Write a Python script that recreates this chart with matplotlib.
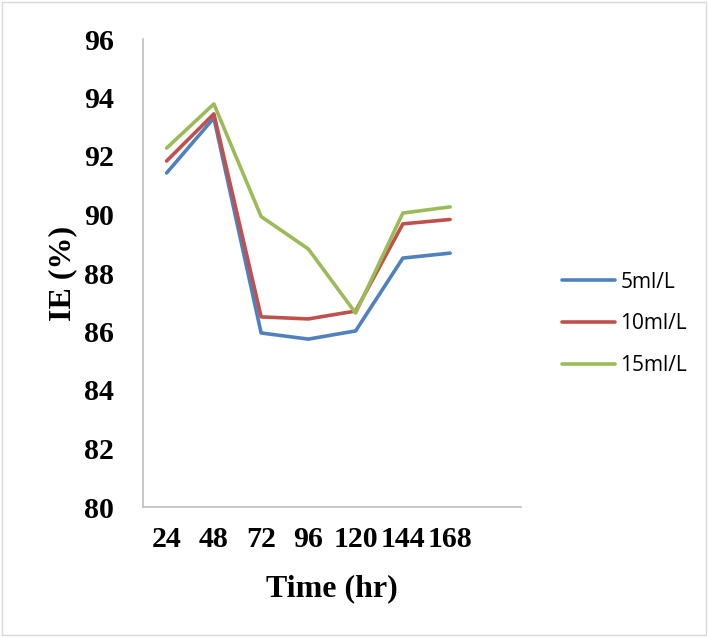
import matplotlib.pyplot as plt
from matplotlib.patches import Rectangle

times = ['24', '48', '72', '96', '120', '144', '168']
series_names = ['5ml/L', '10ml/L', '15ml/L']
ie_5 = [91.42, 93.30, 85.95, 85.74, 86.02, 88.51, 88.68]
ie_10 = [91.83, 93.44, 86.50, 86.43, 86.70, 89.68, 89.83]
ie_15 = [92.27, 93.78, 89.93, 88.82, 86.63, 90.05, 90.26]
colors = ['#4F81BD', '#C0504D', '#9BBB59']

fig = plt.figure(figsize=(7.08, 6.37), dpi=100)
ax = fig.add_axes([143 / 708, 1 - 507 / 637, (521 - 143) / 708, (507 - 39) / 637])

# whole-chart border
fig.patches.append(Rectangle((0.003, 0.003), 0.994, 0.994, transform=fig.transFigure,
                             fill=False, edgecolor='#D9D9D9', linewidth=1))

x = range(len(times))
for vals, name, c in zip([ie_5, ie_10, ie_15], series_names, colors):
    ax.plot(x, vals, color=c, linewidth=2.6, label=name, solid_capstyle='round')

ax.set_xlim(-0.5, 7.5)
ax.set_ylim(80, 96)
ax.set_xticks(list(x))
ax.set_xticklabels(times)
ax.set_yticks(range(80, 97, 2))

serif = {'family': 'Liberation Serif', 'weight': 'bold'}
for lbl in ax.get_xticklabels() + ax.get_yticklabels():
    lbl.set_fontfamily('Liberation Serif')
    lbl.set_fontweight('bold')
    lbl.set_fontsize(21.5)
ax.tick_params(length=0)
ax.tick_params(axis='x', pad=14)
ax.tick_params(axis='y', pad=21)

for s in ['top', 'right']:
    ax.spines[s].set_visible(False)
for s in ['left', 'bottom']:
    ax.spines[s].set_color('#BFBFBF')
    ax.spines[s].set_linewidth(1.2)

ax.set_xlabel('Time (hr)', fontdict=serif, fontsize=23, labelpad=15)
ax.set_ylabel('IE (%)', fontdict=serif, fontsize=23, labelpad=5)

ax.legend(loc='center left', bbox_to_anchor=(562 / 708, 1 - 324 / 637),
          bbox_transform=fig.transFigure, frameon=False, borderpad=0, borderaxespad=0,
          prop={'family': 'Open Sans', 'size': 15}, handlelength=2.55,
          labelspacing=1.0, handletextpad=0.25)

fig.savefig('out.png', dpi=100)
